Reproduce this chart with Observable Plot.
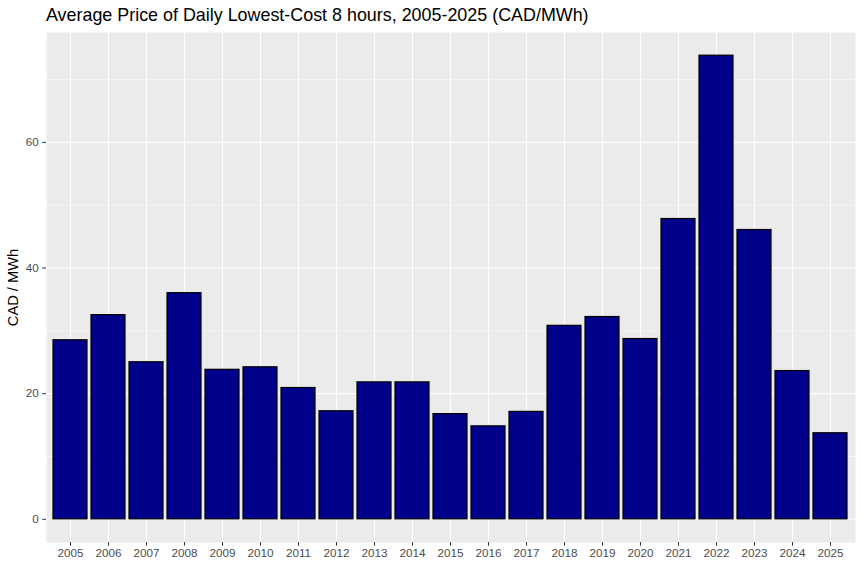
<!DOCTYPE html>
<html>
<head>
<meta charset="utf-8">
<script src="https://cdn.jsdelivr.net/npm/d3@7"></script>
<script src="https://cdn.jsdelivr.net/npm/@observablehq/plot@0.6"></script>
<style>
  html, body { margin: 0; padding: 0; background: white; }
  #wrap { position: relative; width: 863px; height: 568px; overflow: hidden; font-family: "Liberation Sans", Arial, sans-serif; }
  #title { position: absolute; left: 46px; top: 7px; font-size: 17.9px; line-height: 1; color: black; white-space: nowrap; }
  #chart { position: absolute; left: 0; top: 28px; }
</style>
</head>
<body>
<div id="wrap">
  <div id="title">Average Price of Daily Lowest-Cost 8 hours, 2005-2025 (CAD/MWh)</div>
  <div id="chart"></div>
</div>
<script>
const years = ["2005","2006","2007","2008","2009","2010","2011","2012","2013","2014","2015","2016","2017","2018","2019","2020","2021","2022","2023","2024","2025"];
const prices = [28.5, 32.5, 25.0, 36.0, 23.8, 24.2, 20.9, 17.2, 21.8, 21.8, 16.75, 14.8, 17.1, 30.8, 32.2, 28.7, 47.8, 73.8, 46.05, 23.6, 13.7];
const majorTicks = [0, 20, 40, 60];
const minorTicks = [10, 30, 50, 70];
const yLabel = "CAD / MWh";

const data = years.map((year, i) => ({year, price: prices[i]}));
const maxV = d3.max(prices);

const chart = Plot.plot({
  width: 863,
  height: 540,
  marginTop: 4,
  marginBottom: 26,
  marginLeft: 46,
  marginRight: 8,
  style: {fontFamily: "'Liberation Sans', Arial, sans-serif", background: "white", overflow: "visible"},
  x: {type: "band", domain: years, paddingInner: 0.1, paddingOuter: 0.15, align: 0.5},
  y: {domain: [-0.05 * maxV, 1.05 * maxV]},
  marks: [
    Plot.frame({fill: "#EBEBEB", stroke: "none"}),
    Plot.gridY(minorTicks, {stroke: "white", strokeOpacity: 1, strokeWidth: 0.55}),
    Plot.gridY(majorTicks, {stroke: "white", strokeOpacity: 1, strokeWidth: 1.1}),
    Plot.gridX({stroke: "white", strokeOpacity: 1, strokeWidth: 1.1}),
    Plot.barY(data, {x: "year", y: "price", fill: "#00008B", stroke: "black", strokeWidth: 1.2}),
    Plot.axisY(majorTicks, {tickSize: 3.7, tickPadding: 4, fontSize: 11.7, stroke: "#333333", fill: "#4D4D4D", label: null}),
    Plot.axisX({tickSize: 3.7, tickPadding: 2.5, fontSize: 11.7, stroke: "#333333", fill: "#4D4D4D", label: null}),
    Plot.text([yLabel], {text: d => d, frameAnchor: "left", dx: -33, rotate: -90, textAnchor: "middle", fontSize: 14.67, fill: "black"})
  ]
});
document.getElementById("chart").appendChild(chart);
</script>
</body>
</html>
